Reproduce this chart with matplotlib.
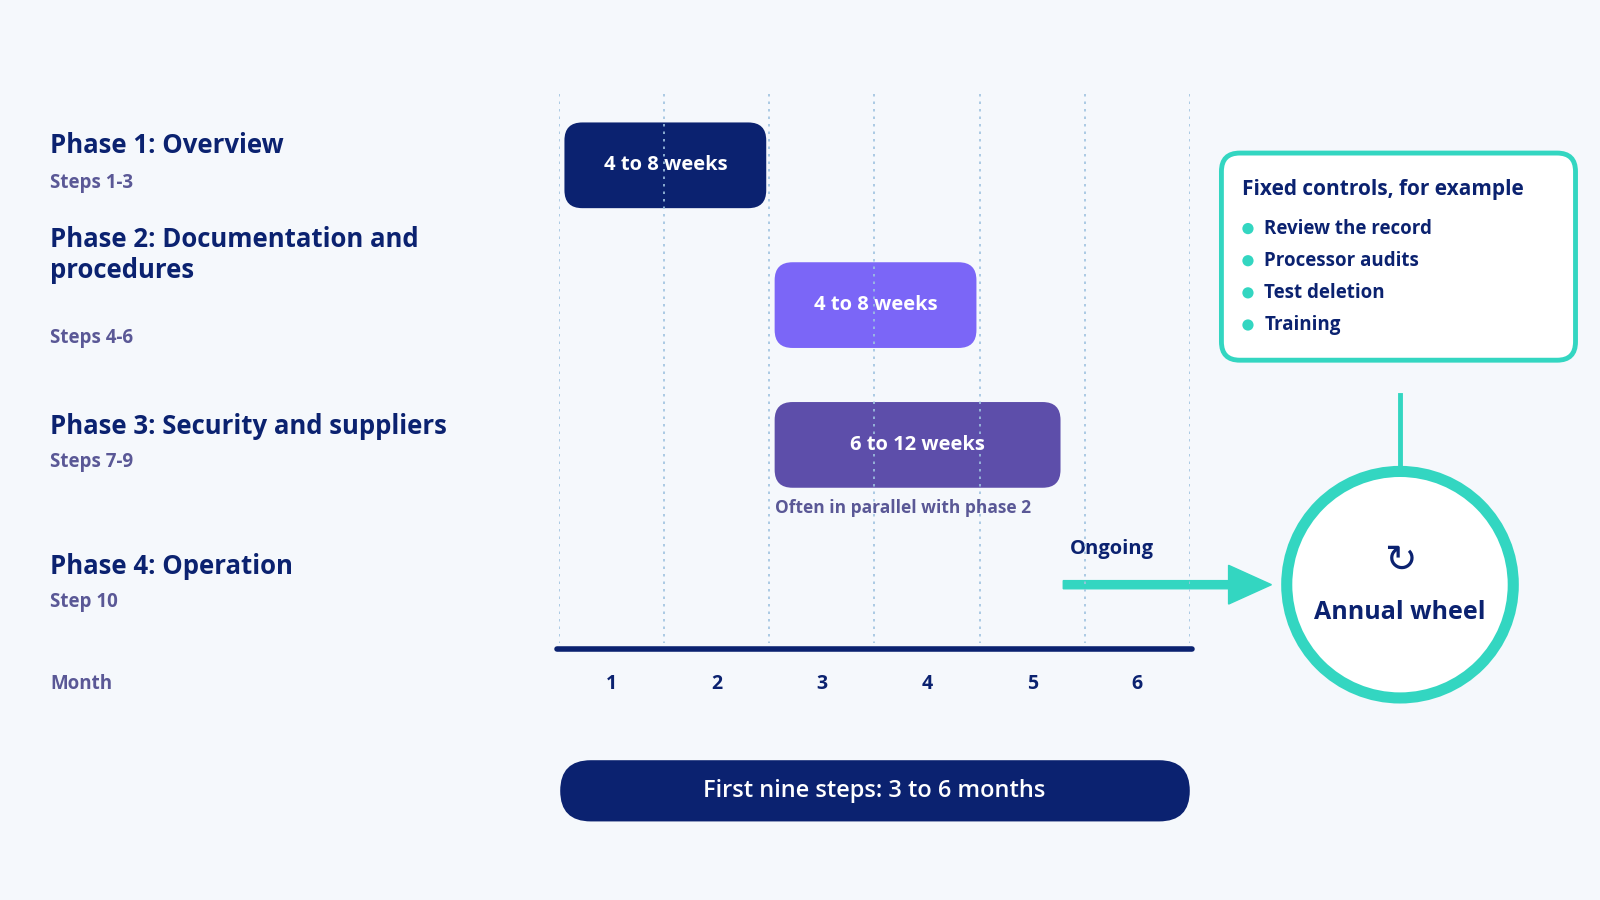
import matplotlib
matplotlib.use("Agg")
import matplotlib.pyplot as plt
from matplotlib.patches import FancyBboxPatch, Circle, FancyArrow

plt.rcParams['font.family'] = ['Open Sans', 'DejaVu Sans']

NAVY = '#0B2270'
PURPLE = '#7B66F7'
PURPLE2 = '#5D4EAA'
TEAL = '#33D6C1'
GREY = '#5A5896'
BG = '#F5F8FC'

phase_titles = ["Phase 1: Overview", "Phase 2: Documentation and\nprocedures",
                "Phase 3: Security and suppliers", "Phase 4: Operation"]
phase_steps = ["Steps 1-3", "Steps 4-6", "Steps 7-9", "Step 10"]
bar_start = [0.05, 2.05, 2.05]
bar_end = [1.97, 3.97, 4.77]
bar_labels = ["4 to 8 weeks", "4 to 8 weeks", "6 to 12 weeks"]
bar_colors = [NAVY, PURPLE, PURPLE2]
months = [1, 2, 3, 4, 5, 6]
controls = ["Review the record", "Processor audits", "Test deletion", "Training"]

W, H = 1568, 882
fig = plt.figure(figsize=(16, 9), dpi=100, facecolor=BG)
ax = fig.add_axes([0, 0, 1, 1])
ax.set_xlim(0, W); ax.set_ylim(H, 0); ax.axis('off')

# left labels
title_y = [143, 265, 418, 555]
step_y = [179, 331, 453, 590]
for t, s, ty, sy in zip(phase_titles, phase_steps, title_y, step_y):
    ax.text(49, ty - (15 if '\n' in t else 0), t, fontsize=18.5, fontweight='bold', color=NAVY,
            va='center', linespacing=1.2)
    ax.text(49, sy, s, fontsize=13.5, fontweight='bold', color=GREY, va='center')
ax.text(49, 670, "Month", fontsize=13.5, fontweight='bold', color=GREY, va='center')

# gantt axes
x0, x1, yt, yb = 548, 1166, 90, 640
gx = fig.add_axes([x0 / W, 1 - yb / H, (x1 - x0) / W, (yb - yt) / H])
gx.set_xlim(0, 6); gx.set_ylim(yb, yt); gx.axis('off')
gx.patch.set_alpha(0)
for m in range(7):
    gx.plot([m, m], [92, 630], ls=(0, (1.5, 3)), color='#9FC3E0', lw=1.2)
gx.plot([-0.02, 6.02], [636, 636], color=NAVY, lw=4, solid_capstyle='round', clip_on=False)
bar_ymid = [162, 299, 436]
px_per_month = (x1 - x0) / 6
for s, e, lab, c, ym in zip(bar_start, bar_end, bar_labels, bar_colors, bar_ymid):
    gx.add_patch(FancyBboxPatch((s, ym - 42), e - s, 84,
                                boxstyle="round,pad=0,rounding_size=0.17",
                                mutation_aspect=px_per_month, fc=c, ec='none'))
    gx.text((s + e) / 2, ym, lab, color='white', fontsize=14.5, fontweight='bold',
            ha='center', va='center')
gx.text(2.05, 498, "Often in parallel with phase 2", color=GREY, fontsize=12.5,
        fontweight='bold', va='center')
for m in months:
    ax.text(x0 + (m - 0.5) * px_per_month, 670, str(m), fontsize=14, fontweight='bold',
            color=NAVY, ha='center', va='center')

# ongoing arrow
ax.text(1090, 538, "Ongoing", fontsize=14.5, fontweight='bold', color=NAVY, ha='center', va='center')
ax.add_patch(FancyArrow(1042, 573, 162, 0, width=8, head_width=38, head_length=42,
                        length_includes_head=False, color=TEAL))

# annual wheel
ax.add_patch(Circle((1372, 573), 111, fc='white', ec=TEAL, lw=8))
ax.plot([1372, 1372], [387, 461], color=TEAL, lw=3.5)
ax.text(1372, 550, "↻", fontsize=28, color=NAVY, ha='center', va='center', family='DejaVu Sans')
ax.text(1372, 600, "Annual wheel", fontsize=18, fontweight='bold', color=NAVY, ha='center', va='center')

# callout box
ax.add_patch(FancyBboxPatch((1197, 150), 347, 203, boxstyle="round,pad=0,rounding_size=18",
                            fc='white', ec=TEAL, lw=3.5))
ax.text(1217, 186, "Fixed controls, for example", fontsize=15, fontweight='bold',
        color=NAVY, va='center')
for i, c in enumerate(controls):
    y = 224 + i * 31.5
    ax.add_patch(Circle((1223, y), 5.5, fc=TEAL, ec='none'))
    ax.text(1239, y, c, fontsize=13.5, fontweight='bold', color=NAVY, va='center')

# bottom pill
ax.add_patch(FancyBboxPatch((549, 745), 617, 60, boxstyle="round,pad=0,rounding_size=30",
                            fc=NAVY, ec='none'))
ax.text(857, 775, "First nine steps: 3 to 6 months", fontsize=17, fontweight='bold' if False else 'semibold',
        color='white', ha='center', va='center')

fig.savefig("out.png", dpi=100, facecolor=BG)
